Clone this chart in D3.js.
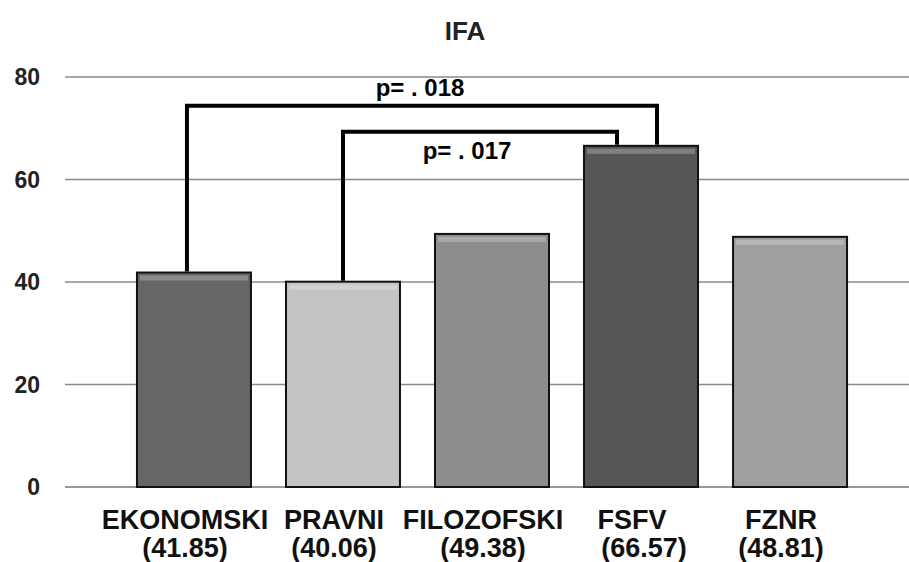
<!DOCTYPE html>
<html>
<head>
<meta charset="utf-8">
<script src="https://cdn.jsdelivr.net/npm/d3@7"></script>
<style>
  body { margin: 0; background: #fff; }
  svg text { font-family: "Liberation Sans", Arial, sans-serif; font-weight: bold; }
</style>
</head>
<body>
<script>
// data
const categories = ["EKONOMSKI", "PRAVNI", "FILOZOFSKI", "FSFV", "FZNR"]
const means      = [41.85, 40.06, 49.38, 66.57, 48.81]
const meanLabels = ["(41.85)", "(40.06)", "(49.38)", "(66.57)", "(48.81)"]
const yTicks     = [0, 20, 40, 60, 80]
const barColors  = ["#666666", "#c3c3c3", "#8d8d8d", "#565656", "#9f9f9f"]
const brackets   = [
    { from: "EKONOMSKI", to: "FSFV", p: "p= . 018", level: 74.4 },
    { from: "PRAVNI",    to: "FSFV", p: "p= . 017", level: 69.3 }
]

let width = 909, height = 562

let svg = d3.select("body").append("svg")
    .attr("width", width)
    .attr("height", height)

svg.append("rect").attr("width", width).attr("height", height).style("fill", "#fff")

let x = d3.scaleBand()
    .domain(categories)
    .range([100, 884])
    .paddingInner(0.235)
    .paddingOuter(0.248)

let y = d3.scaleLinear()
    .domain([0, 80])
    .range([487, 77])

// gridlines
svg.append("g")
    .selectAll("line")
    .data(yTicks)
    .join("line")
    .attr("x1", 65).attr("x2", width)
    .attr("y1", d => y(d)).attr("y2", d => y(d))
    .style("stroke", d => d == 0 ? "#777" : "#8a8a8a")
    .style("stroke-width", 1.5)

// y tick labels
svg.append("g")
    .selectAll("text")
    .data(yTicks)
    .join("text")
    .attr("x", 40)
    .attr("y", d => y(d) + 8)
    .attr("text-anchor", "end")
    .style("font-size", "23px")
    .style("fill", "#222")
    .text(d => d)

// bars
let bars = svg.append("g")
    .selectAll("g")
    .data(categories)
    .join("g")

bars.append("rect")
    .attr("x", d => x(d))
    .attr("y", (d, i) => y(means[i]))
    .attr("width", x.bandwidth())
    .attr("height", (d, i) => y(0) - y(means[i]))
    .style("fill", (d, i) => barColors[i])
    .style("stroke", "#111")
    .style("stroke-width", 2)

// bevel highlight along the top of each bar
bars.append("rect")
    .attr("x", d => x(d) + 3)
    .attr("y", (d, i) => y(means[i]) + 3)
    .attr("width", x.bandwidth() - 6)
    .attr("height", 5)
    .style("fill", "#fff")
    .style("fill-opacity", 0.25)

// significance brackets
let lineFunction = d3.line().x(d => d[0]).y(d => d[1])
let ends = { "EKONOMSKI": -7, "PRAVNI": 0 }
let rightEnd = [16, -24]

let br = svg.append("g")
brackets.forEach((b, k) => {
    let i0 = categories.indexOf(b.from), i1 = categories.indexOf(b.to)
    let xa = x(b.from) + x.bandwidth() / 2 + ends[b.from]
    let xb = x(b.to) + x.bandwidth() / 2 + rightEnd[k]
    let yl = y(b.level)
    br.append("path")
        .attr("d", lineFunction([[xa, y(means[i0]) - 1], [xa, yl], [xb, yl], [xb, y(means[i1]) - 1]]))
        .style("fill", "none")
        .style("stroke", "#000")
        .style("stroke-width", 4)
        .style("stroke-linejoin", "miter")
})

svg.append("text")
    .attr("x", 420).attr("y", 96)
    .attr("text-anchor", "middle")
    .style("font-size", "24px")
    .text(brackets[0].p)

svg.append("text")
    .attr("x", 467).attr("y", 159)
    .attr("text-anchor", "middle")
    .style("font-size", "24px")
    .text(brackets[1].p)

// title
svg.append("text")
    .attr("x", 465).attr("y", 40)
    .attr("text-anchor", "middle")
    .style("font-size", "26px")
    .style("fill", "#222")
    .text("IFA")

// x labels
let xl = svg.append("g")
    .selectAll("g")
    .data(categories)
    .join("g")
    .attr("transform", d => `translate(${x(d) + x.bandwidth() / 2 - 9},0)`)

xl.append("text")
    .attr("y", 529)
    .attr("text-anchor", "middle")
    .style("font-size", "27px")
    .style("fill", "#111")
    .text(d => d)

xl.append("text")
    .attr("y", 557)
    .attr("x", (d, i) => i == 3 ? 12 : 0)
    .attr("text-anchor", "middle")
    .style("font-size", "27px")
    .style("fill", "#111")
    .text((d, i) => meanLabels[i])
</script>
</body>
</html>
